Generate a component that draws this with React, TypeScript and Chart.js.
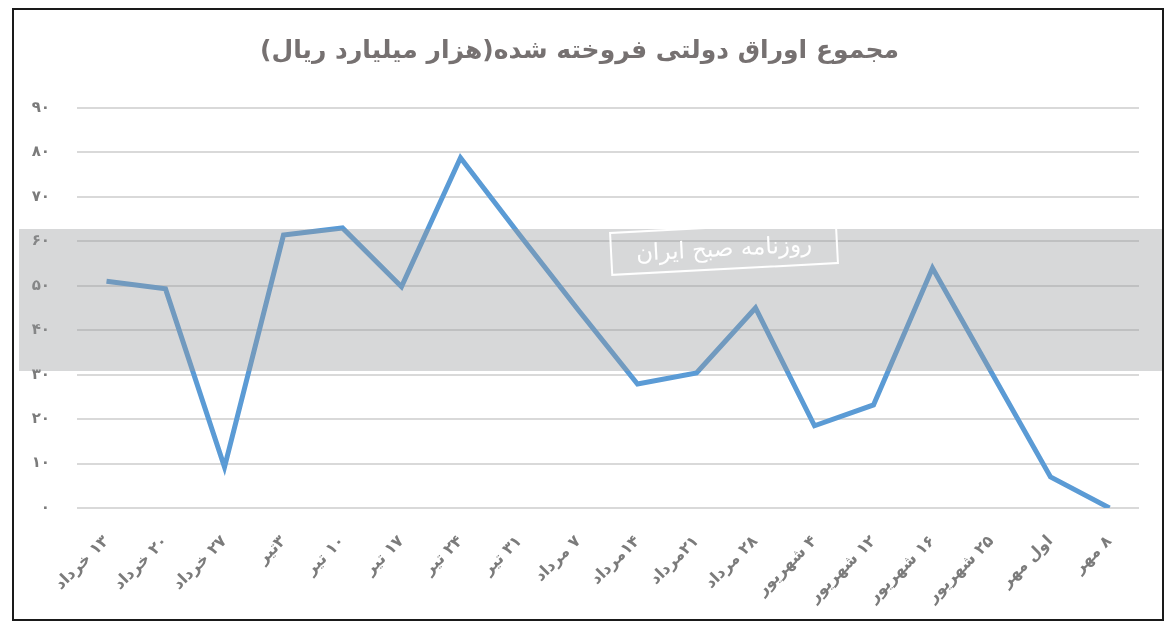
import React, { useEffect, useRef } from 'react';
import { Chart, registerables } from 'chart.js';

Chart.register(...registerables);

const dates = [
  '۱۳ خرداد', '۲۰ خرداد', '۲۷ خرداد', '۳تیر', '۱۰ تیر', '۱۷ تیر',
  '۲۴ تیر', '۳۱ تیر', '۷ مرداد', '۱۴مرداد', '۲۱مرداد', '۲۸ مرداد',
  '۴ شهریور', '۱۲ شهریور', '۱۶ شهریور', '۲۵ شهریور', 'اول مهر', '۸ مهر',
];
const soldBonds = [51, 49.3, 9.2, 61.4, 63, 49.8, 78.8, 61.5, 44.5, 27.9, 30.4, 45, 18.5, 23.2, 54, 30.5, 7, 0];
const faDigits = ['۰', '۱', '۲', '۳', '۴', '۵', '۶', '۷', '۸', '۹'];

const toFa = (n: number) => String(n).replace(/\d/g, d => faDigits[Number(d)]);

const FONT = '"DejaVu Sans", sans-serif';
const GREY = '#7b7b7b';

const App: React.FC = () => {
  const chartRef = useRef<HTMLCanvasElement>(null);
  const chartInstanceRef = useRef<Chart | null>(null);

  useEffect(() => {
    document.body.style.margin = '0';
    if (!chartRef.current) return;
    if (chartInstanceRef.current) chartInstanceRef.current.destroy();
    const ctx = chartRef.current.getContext('2d');
    if (!ctx) return;

    chartInstanceRef.current = new Chart(ctx, {
      type: 'line',
      data: {
        labels: dates,
        datasets: [
          {
            label: 'مجموع اوراق',
            data: soldBonds,
            borderColor: '#5b9bd5',
            borderWidth: 5,
            pointRadius: 0,
            tension: 0,
            fill: false,
          },
        ],
      },
      options: {
        responsive: false,
        animation: false,
        layout: { padding: { left: 20, right: 34, top: 0, bottom: 0 } },
        plugins: {
          legend: { display: false },
          tooltip: { enabled: false },
          title: {
            display: true,
            text: 'مجموع اوراق دولتی فروخته شده(هزار میلیارد ریال)',
            color: '#767171',
            font: { family: FONT, size: 25, weight: 'bold', lineHeight: 1.2 },
            padding: { top: 36, bottom: 42 },
          },
        },
        scales: {
          x: {
            offset: true,
            grid: { display: false, drawTicks: false },
            border: { display: false },
            ticks: {
              autoSkip: false,
              minRotation: 45,
              maxRotation: 45,
              padding: 24,
              color: GREY,
              font: { family: FONT, size: 16, weight: 'bold' },
            },
            afterFit: (scale: any) => { scale.height = 128; },
          },
          y: {
            min: 0,
            max: 90,
            grid: { color: '#d9d9d9', lineWidth: 2, drawTicks: false },
            border: { display: false },
            ticks: {
              stepSize: 10,
              padding: 27,
              color: GREY,
              font: { family: FONT, size: 15, weight: 'bold' },
              callback: (v: any) => toFa(Number(v)),
            },
            afterFit: (scale: any) => { scale.width = 57; },
          },
        },
      },
    });

    return () => {
      if (chartInstanceRef.current) {
        chartInstanceRef.current.destroy();
        chartInstanceRef.current = null;
      }
    };
  }, []);

  return (
    <div style={{ position: 'relative', width: 1173, height: 636, background: '#fff', overflow: 'hidden' }}>
      <canvas ref={chartRef} width={1173} height={636} dir="rtl" style={{ position: 'absolute', left: 0, top: 0 }} />
      <div style={{ position: 'absolute', left: 19, top: 229, width: 1143, height: 142, background: 'rgba(150,152,156,0.38)' }} />
      <div
        dir="rtl"
        style={{
          position: 'absolute', left: 610, top: 226, width: 224, height: 40,
          border: '2px solid #fff', color: '#fff', fontFamily: FONT, fontSize: 23,
          lineHeight: '40px', textAlign: 'center', transform: 'rotate(-3deg)',
        }}
      >
        روزنامه صبح ایران
      </div>
      <div style={{ position: 'absolute', left: 12, top: 8, width: 1148, height: 609, border: '2px solid #1a1a1a' }} />
    </div>
  );
};

export default App;
